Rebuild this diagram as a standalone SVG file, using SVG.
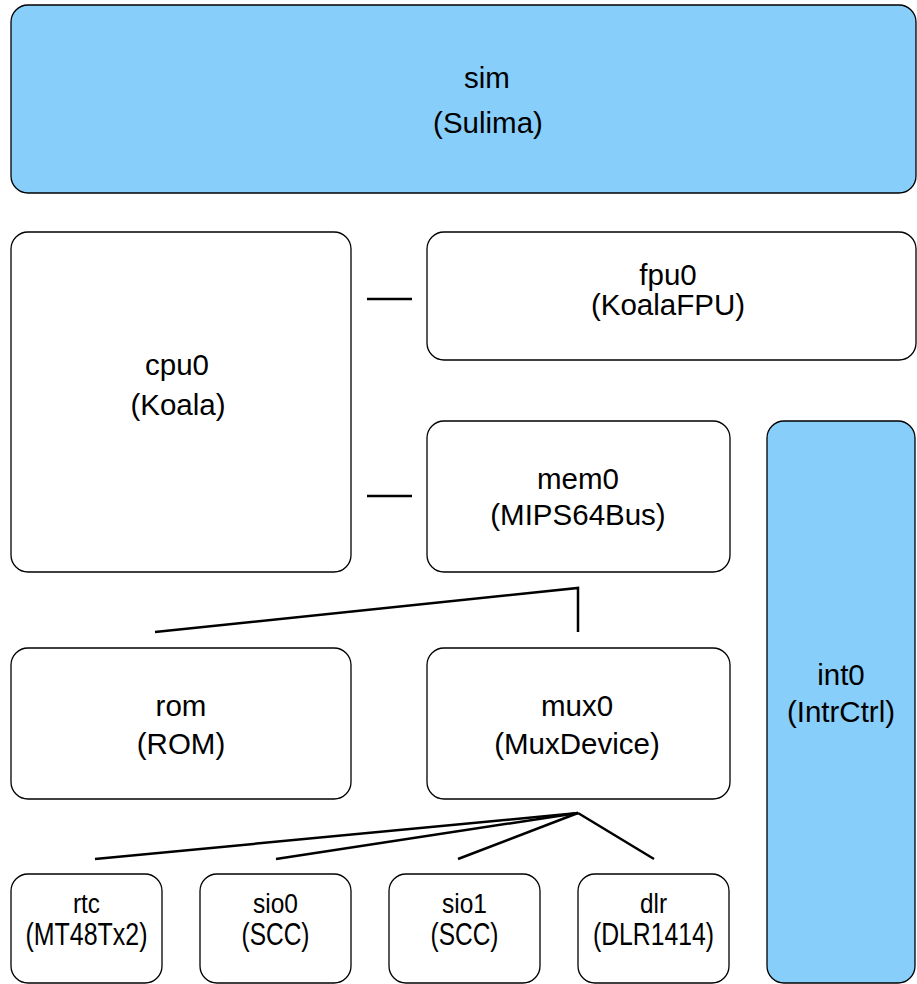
<svg xmlns="http://www.w3.org/2000/svg" width="917" height="984" viewBox="0 0 917 984">
  <style>
    .box { fill: #ffffff; stroke: #000000; stroke-width: 1.3; }
    .hub { fill: #87cefa; stroke: #000000; stroke-width: 1.3; }
    .lbl { font-family: "Liberation Sans", Arial, sans-serif; font-size: 29.5px; fill: #000000; text-anchor: middle; }
    .sm { font-family: "Liberation Sans", Arial, sans-serif; font-size: 27px; fill: #000000; text-anchor: middle; }
    .sm2 { font-family: "Liberation Sans", Arial, sans-serif; font-size: 30.5px; fill: #000000; text-anchor: middle; }
    .wire { fill: none; stroke: #000000; stroke-width: 2.5; }
  </style>
  <rect width="917" height="984" fill="#ffffff"/>

  <g id="sim">
    <rect class="hub" x="11" y="5" width="905" height="188" rx="17"/>
    <text class="lbl" x="487" y="88">sim</text>
    <text class="lbl" x="488" y="133">(Sulima)</text>
  </g>

  <g id="cpu0">
    <rect class="box" x="11" y="232" width="340" height="340" rx="17"/>
    <text class="lbl" x="177" y="375">cpu0</text>
    <text class="lbl" x="178" y="415">(Koala)</text>
  </g>

  <g id="fpu0">
    <rect class="box" x="427" y="232" width="489" height="128" rx="17"/>
    <text class="lbl" x="668" y="285">fpu0</text>
    <text class="lbl" x="668" y="315">(KoalaFPU)</text>
  </g>

  <g id="mem0">
    <rect class="box" x="427" y="421" width="303" height="151" rx="17"/>
    <text class="lbl" x="578" y="489">mem0</text>
    <text class="lbl" x="578" y="525">(MIPS64Bus)</text>
  </g>

  <g id="int0">
    <rect class="hub" x="767" y="421" width="148" height="562" rx="17"/>
    <text class="lbl" x="841" y="685">int0</text>
    <text class="lbl" x="841" y="722">(IntrCtrl)</text>
  </g>

  <g id="rom">
    <rect class="box" x="11" y="648" width="340" height="151" rx="17"/>
    <text class="lbl" x="181" y="716">rom</text>
    <text class="lbl" x="181" y="754">(ROM)</text>
  </g>

  <g id="mux0">
    <rect class="box" x="427" y="648" width="303" height="151" rx="17"/>
    <text class="lbl" x="577" y="716">mux0</text>
    <text class="lbl" x="577" y="754">(MuxDevice)</text>
  </g>

  <g id="rtc">
    <rect class="box" x="11" y="874" width="151" height="109" rx="17"/>
    <text class="sm" x="86.5" y="913" textLength="27" lengthAdjust="spacingAndGlyphs">rtc</text>
    <text class="sm2" x="86.5" y="945" textLength="122" lengthAdjust="spacingAndGlyphs">(MT48Tx2)</text>
  </g>

  <g id="sio0">
    <rect class="box" x="200" y="874" width="151" height="109" rx="17"/>
    <text class="sm" x="275.5" y="913" textLength="45" lengthAdjust="spacingAndGlyphs">sio0</text>
    <text class="sm2" x="275.5" y="945" textLength="68" lengthAdjust="spacingAndGlyphs">(SCC)</text>
  </g>

  <g id="sio1">
    <rect class="box" x="389" y="874" width="151" height="109" rx="17"/>
    <text class="sm" x="464.5" y="913" textLength="45" lengthAdjust="spacingAndGlyphs">sio1</text>
    <text class="sm2" x="464.5" y="945" textLength="68" lengthAdjust="spacingAndGlyphs">(SCC)</text>
  </g>

  <g id="dlr">
    <rect class="box" x="578" y="874" width="151" height="109" rx="17"/>
    <text class="sm" x="653.5" y="913" textLength="27" lengthAdjust="spacingAndGlyphs">dlr</text>
    <text class="sm2" x="653.5" y="945" textLength="121" lengthAdjust="spacingAndGlyphs">(DLR1414)</text>
  </g>

  <g id="connectors">
    <line class="wire" x1="367" y1="299" x2="412" y2="299"/>
    <line class="wire" x1="367" y1="496" x2="412" y2="496"/>
    <polyline class="wire" points="155,632 578,588 578,632"/>
    <line class="wire" x1="578" y1="813" x2="95" y2="859"/>
    <line class="wire" x1="578" y1="813" x2="276" y2="859"/>
    <line class="wire" x1="578" y1="813" x2="458" y2="859"/>
    <line class="wire" x1="578" y1="813" x2="654" y2="859"/>
  </g>
</svg>
